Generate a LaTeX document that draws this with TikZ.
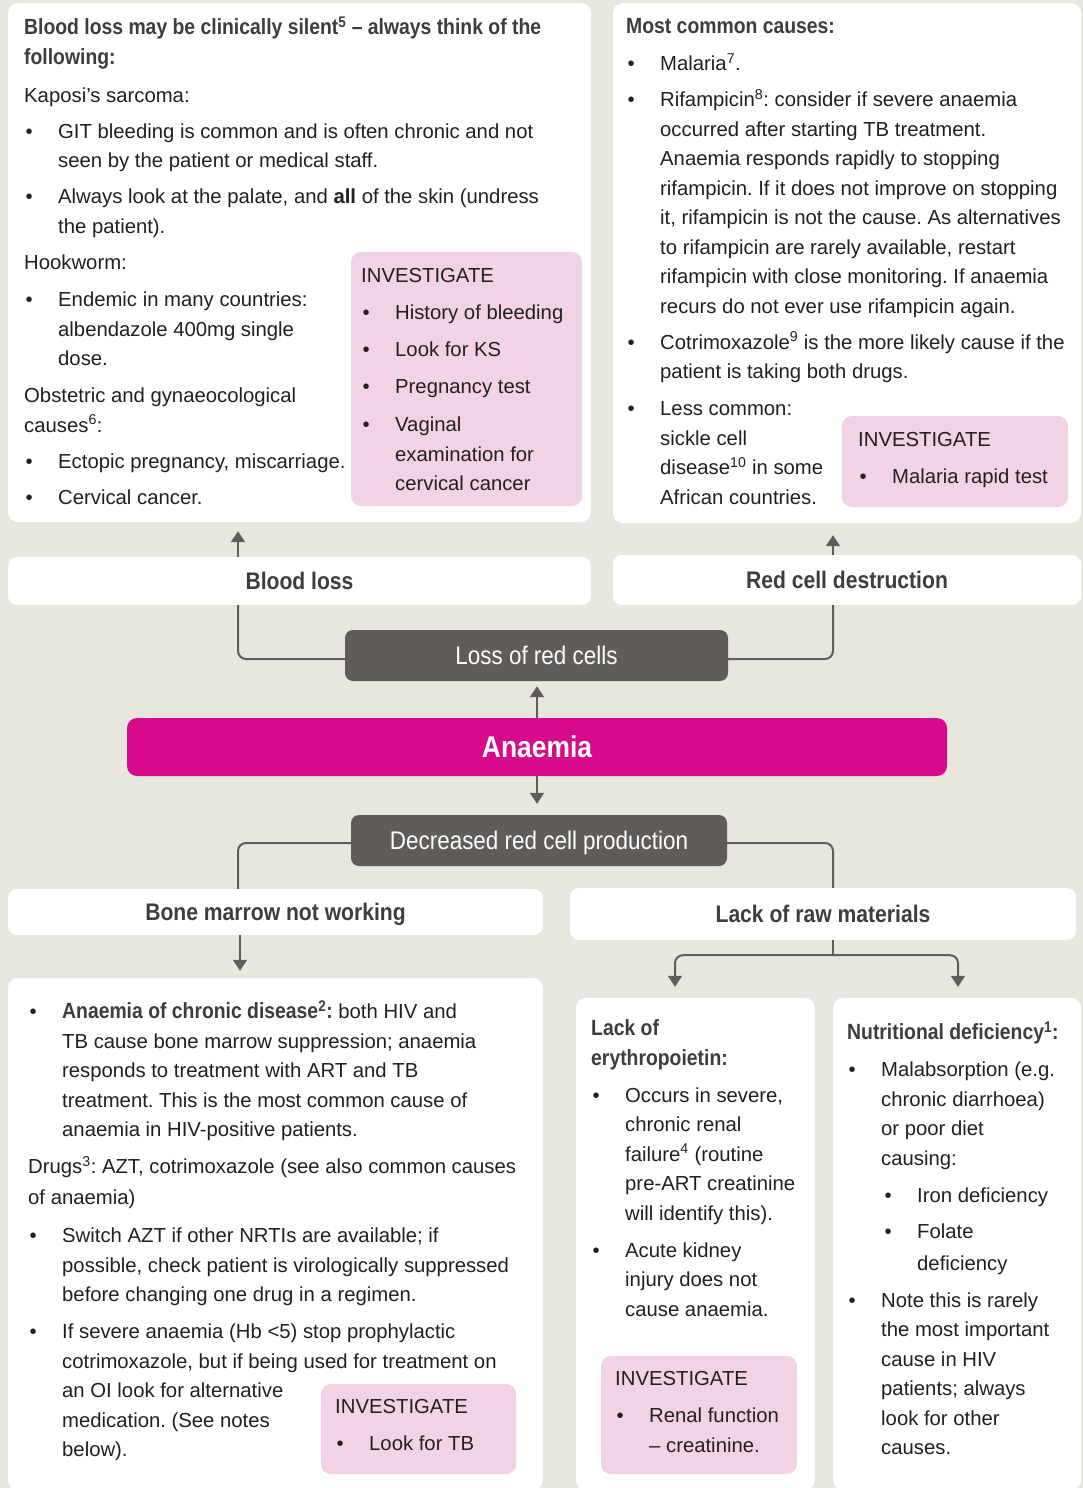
\documentclass[tikz,border=0pt]{standalone}
\usepackage{fontspec}
\setmainfont{Liberation Sans}
\newfontfamily\condfont{Liberation Sans}[FakeStretch=0.88,Ligatures=TeX]
\usetikzlibrary{positioning,arrows.meta,calc}

\definecolor{pagebg}{HTML}{E7E6DF}
\definecolor{invpink}{HTML}{F2D3E5}
\definecolor{anaemiared}{HTML}{D70A8C}
\definecolor{boxgray}{HTML}{5F5C5A}
\definecolor{linegray}{HTML}{5F5C5A}
\definecolor{headtext}{HTML}{3F3C3B}
\definecolor{bodytext}{HTML}{231F20}

\newcommand{\bul}{\makebox[34pt][l]{\hspace*{1.5pt}\textbullet}}
\newcommand{\cont}{\hspace*{34pt}}
\newcommand{\sbul}{\hspace*{36pt}\bul}
\newcommand{\scont}{\hspace*{70pt}}
\newcommand{\hd}[1]{{\condfont\bfseries\fontsize{22}{29.5}\selectfont\color{headtext}#1}}
\frenchspacing

\begin{document}
\begin{tikzpicture}[x=1pt,y=-1pt,
  infobox/.style={rectangle,fill=white,rounded corners=10pt,inner sep=0pt},
  headbox/.style={rectangle,fill=white,rounded corners=9pt,inner sep=0pt,font=\condfont\bfseries\fontsize{24}{28}\selectfont,text=headtext,text height=17pt,text depth=0pt},
  darkbox/.style={rectangle,fill=boxgray,rounded corners=8pt,inner sep=0pt,font=\condfont\fontsize{25.5}{28}\selectfont,text=white,text height=18pt,text depth=0pt},
  invbox/.style={rectangle,fill=invpink,rounded corners=10pt,inner sep=0pt},
  body/.style={anchor=north west,inner sep=0pt,align=left,text=bodytext,font=\fontsize{20.3}{29.5}\selectfont},
  conn/.style={draw=linegray,line width=2pt,rounded corners=8pt},
  arr/.style={conn,-{Triangle[width=14pt,length=11pt]}},
]
% page
\clip (0,0) rectangle (1083,1488);
\fill[pagebg] (0,0) rectangle (1083,1488);

% Top row - blood loss details
\node[infobox,minimum width=583pt,minimum height=519pt] (bloodinfo) at (299.5,262.5) {};
\node[invbox,minimum width=231pt,minimum height=254pt] (invblood) at (466.5,379) {};
\node[body] (bloodtxt) at (24,14) {\strut\hd{Blood loss may be clinically silent\textsuperscript{5} \textendash{} always think of the}\\
\hd{following:}\\[8.5pt]
Kaposi's sarcoma:\\[6.5pt]
\bul GIT bleeding is common and is often chronic and not\\
\cont seen by the patient or medical staff.\\[6.5pt]
\bul Always look at the palate, and \textbf{all} of the skin (undress\\
\cont the patient).\\[7pt]
Hookworm:\\[7.5pt]
\bul Endemic in many countries:\\
\cont albendazole 400mg single\\
\cont dose.\\[7.5pt]
Obstetric and gynaeocological\\
causes\textsuperscript{6}:\\[6.5pt]
\bul Ectopic pregnancy, miscarriage.\\[7pt]
\bul Cervical cancer.};
\node[body] (invbloodtxt) at (361,262) {\strut INVESTIGATE\\[7.5pt]
\bul History of bleeding\\[7.5pt]
\bul Look for KS\\[7.5pt]
\bul Pregnancy test\\[8.5pt]
\bul Vaginal\\
\cont examination for\\
\cont cervical cancer};

% Top row - red cell destruction details
\node[infobox,minimum width=468pt,minimum height=520pt] (destinfo) at (847,263) {};
\node[invbox,minimum width=226pt,minimum height=91pt] (invdest) at (955,461.5) {};
\node[body] (desttxt) at (626,13) {\strut\hd{Most common causes:}\\[7.5pt]
\bul Malaria\textsuperscript{7}.\\[6.5pt]
\bul Rifampicin\textsuperscript{8}: consider if severe anaemia\\
\cont occurred after starting TB treatment.\\
\cont Anaemia responds rapidly to stopping\\
\cont rifampicin. If it does not improve on stopping\\
\cont it, rifampicin is not the cause. As alternatives\\
\cont to rifampicin are rarely available, restart\\
\cont rifampicin with close monitoring. If anaemia\\
\cont recurs do not ever use rifampicin again.\\[6.5pt]
\bul Cotrimoxazole\textsuperscript{9} is the more likely cause if the\\
\cont patient is taking both drugs.\\[7.5pt]
\bul Less common:\\
\cont sickle cell\\
\cont disease\textsuperscript{10} in some\\
\cont African countries.};
\node[body] (invdesttxt) at (858,426) {\strut INVESTIGATE\\[7.5pt]
\bul Malaria rapid test};

% Middle - flow boxes
\node[headbox,minimum width=583pt,minimum height=48pt] (bloodloss) at (299.5,581) {Blood loss};
\node[headbox,minimum width=468pt,minimum height=50pt] (redcell) at (847,580) {Red cell destruction};
\node[darkbox,minimum width=383pt,minimum height=51pt] (loss) at (536.5,655.5) {Loss of red cells};
\node[rectangle,fill=anaemiared,rounded corners=10pt,inner sep=0pt,minimum width=820pt,minimum height=58pt,
  font=\condfont\bfseries\fontsize{30}{34}\selectfont,text=white,text height=21.5pt,text depth=0pt] (anaemia) at (537,747) {Anaemia};
\node[darkbox,minimum width=376pt,minimum height=51pt] (decreased) at (539,840.5) {Decreased red cell production};
\node[headbox,minimum width=535pt,minimum height=46pt] (marrow) at (275.5,912) {Bone marrow not working};
\node[headbox,minimum width=506pt,minimum height=52pt] (rawmat) at (823,914) {Lack of raw materials};

% Bottom row - bone marrow details
\node[infobox,minimum width=535pt,minimum height=512pt] (marrowinfo) at (275.5,1234) {};
\node[invbox,minimum width=195pt,minimum height=90pt] (invmarrow) at (418.5,1429) {};
\node[body] (marrowtxt) at (28,998) {\strut\bul\hd{Anaemia of chronic disease\textsuperscript{2}:} both HIV and\\
\cont TB cause bone marrow suppression; anaemia\\
\cont responds to treatment with ART and TB\\
\cont treatment. This is the most common cause of\\
\cont anaemia in HIV-positive patients.\\[7.5pt]
Drugs\textsuperscript{3}: AZT, cotrimoxazole (see also common causes\\[1.5pt]
of anaemia)\\[8.5pt]
\bul Switch AZT if other NRTIs are available; if\\
\cont possible, check patient is virologically suppressed\\
\cont before changing one drug in a regimen.\\[7.5pt]
\bul If severe anaemia (Hb \textless5) stop prophylactic\\
\cont cotrimoxazole, but if being used for treatment on\\
\cont an OI look for alternative\\
\cont medication. (See notes\\
\cont below).};
\node[body] (invmarrowtxt) at (335,1393) {\strut INVESTIGATE\\[7.5pt]
\bul Look for TB};

% Bottom row - erythropoietin details
\node[infobox,minimum width=239pt,minimum height=492pt] (epoinfo) at (695.5,1244) {};
\node[invbox,minimum width=196pt,minimum height=118pt] (invepo) at (699,1415) {};
\node[body] (epotxt) at (591,1015) {\strut\hd{Lack of}\\
\hd{erythropoietin:}\\[7.5pt]
\bul Occurs in severe,\\
\cont chronic renal\\
\cont failure\textsuperscript{4} (routine\\
\cont pre-ART creatinine\\
\cont will identify this).\\[7.5pt]
\bul Acute kidney\\
\cont injury does not\\
\cont cause anaemia.};
\node[body] (invepotxt) at (615,1365) {\strut INVESTIGATE\\[7.5pt]
\bul Renal function\\
\cont -- creatinine.};

% Bottom row - nutrition details
\node[infobox,minimum width=248pt,minimum height=492pt] (nutinfo) at (957,1244) {};
\node[body] (nuttxt) at (847,1019) {\strut\hd{Nutritional deficiency\textsuperscript{1}:}\\[7.5pt]
\bul Malabsorption (e.g.\\
\cont chronic diarrhoea)\\
\cont or poor diet\\
\cont causing:\\[7.5pt]
\sbul Iron deficiency\\[6.5pt]
\sbul Folate\\[2.5pt]
\scont deficiency\\[7.5pt]
\bul Note this is rarely\\
\cont the most important\\
\cont cause in HIV\\
\cont patients; always\\
\cont look for other\\
\cont causes.};

% Connectors
\draw[arr,shorten >=9pt] ([xshift=-61.5pt]bloodloss.north) -- ([xshift=-61.5pt]bloodinfo.south);
\draw[arr,shorten >=12pt] ([xshift=-14pt]redcell.north) -- ([xshift=-14pt]destinfo.south);
\draw[conn] ([yshift=-3.5pt]loss.west) -| ([xshift=-61.5pt]bloodloss.south);
\draw[conn] ([yshift=-3.5pt]loss.east) -| ([xshift=-14pt]redcell.south);
\draw[arr,shorten >=5pt] (anaemia.north) -- (anaemia.north |- loss.south);
\draw[arr,shorten >=11pt] (anaemia.south) -- (anaemia.south |- decreased.north);
\draw[conn] ([yshift=-2.5pt]decreased.west) -| ([xshift=-37.5pt]marrow.north);
\draw[conn] ([yshift=-2.5pt]decreased.east) -| ([xshift=10pt]rawmat.north);
\draw[arr,shorten >=7pt] ([xshift=-35.5pt]marrow.south) -- ([xshift=-35.5pt]marrowinfo.north);
\coordinate (fork) at ([xshift=10pt,yshift=-15pt]rawmat.south);
\draw[conn] ([xshift=10pt]rawmat.south) -- (fork);
\draw[arr,shorten >=11pt] (fork) -| ([xshift=-20.5pt]epoinfo.north);
\draw[arr,shorten >=11pt] (fork) -| ([xshift=1pt]nutinfo.north);
\end{tikzpicture}
\end{document}
